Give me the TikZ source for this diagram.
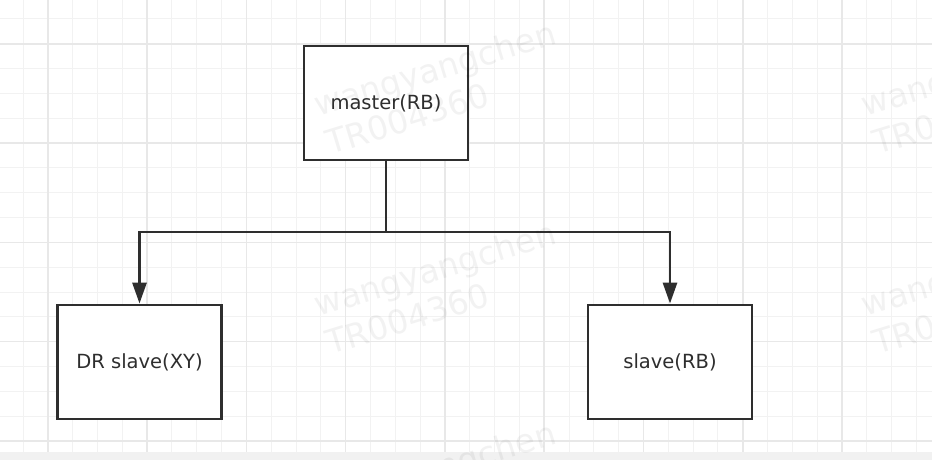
\documentclass[tikz,border=0pt]{standalone}
\usepackage{fontspec}
\setmainfont{DejaVu Sans}
\usetikzlibrary{arrows.meta}
\definecolor{inkgray}{HTML}{2E2E2E}
\definecolor{gridminor}{HTML}{F2F2F2}
\definecolor{gridmajor}{HTML}{E8E8E8}
\definecolor{bandgray}{HTML}{F1F1F1}
\tikzset{
  box/.style={draw=inkgray, line width=2.8pt, fill=white, minimum width=164pt,
    minimum height=114pt, inner sep=0pt, text=inkgray,
    font=\fontsize{19.5}{23}\selectfont},
  link/.style={draw=inkgray, line width=2.8pt, -{Triangle[width=14pt,length=21pt]}},
  wmark/.style={text=black, text opacity=0.05, rotate=17, anchor=base west,
    inner sep=0pt, font=\fontsize{33}{36}\selectfont},
}
\begin{document}
\begin{tikzpicture}[x=1pt,y=-1pt]
	\useasboundingbox (0,0) rectangle (932,460);
	\clip (0,0) rectangle (932,460);
	% grid paper
	\fill [white] (0,0) rectangle (932,452);
	\fill [bandgray] (0,452) rectangle (932,460);
	\foreach \i in {0,...,36}
		\draw [gridminor, line width=1pt] ({23+24.82*\i},0) -- ({23+24.82*\i},452);
	\foreach \j in {0,...,17}
		\draw [gridminor, line width=1pt] (0,{19+24.82*\j}) -- (932,{19+24.82*\j});
	\foreach \i in {1,5,...,33}
		\draw [gridmajor, line width=1.5pt] ({23+24.82*\i},0) -- ({23+24.82*\i},452);
	\foreach \j in {1,5,...,17}
		\draw [gridmajor, line width=1.5pt] (0,{19+24.82*\j}) -- (932,{19+24.82*\j});

	% boxes
	\node [box] (master) at (386,103) {master(RB)};
	\node [box] (drslave) at (139.5,362) {DR slave(XY)};
	\node [box] (slave) at (670,362) {slave(RB)};

	% connectors
	\coordinate (split) at (386,232);
	\draw [link] (master.south) -- (split) -| (drslave.north);
	\draw [link] (master.south) -- (split) -| (slave.north);

	% watermark
	\foreach \wx/\wy in {318/117, 318/317, 318/517, 865/117, 865/317} {
		\node [wmark] at (\wx,\wy) {wangyangchen};
		\node [wmark] at (\wx+12,\wy+38) {TR004360};
	}
\end{tikzpicture}
\end{document}
